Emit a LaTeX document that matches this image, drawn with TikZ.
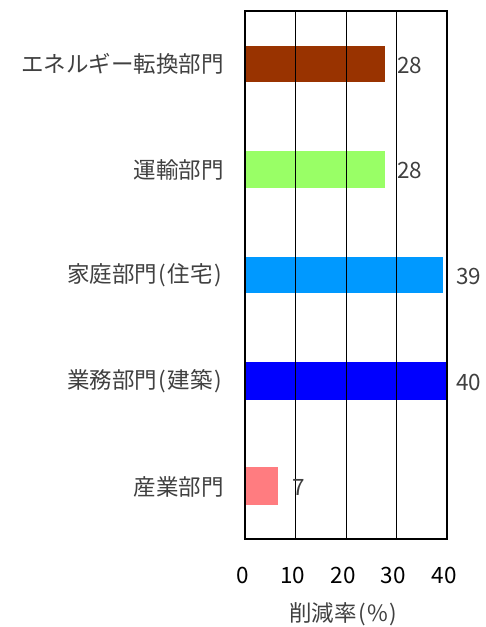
\documentclass[tikz,border=0pt]{standalone}
\usepackage{fontspec}
\setmainfont{Noto Sans CJK JP}
\definecolor{txt}{HTML}{404040}
\definecolor{cEn}{HTML}{993300}
\definecolor{cTr}{HTML}{99FF66}
\definecolor{cHo}{HTML}{0099FF}
\definecolor{cBu}{HTML}{0000FF}
\definecolor{cIn}{HTML}{FF7C80}
\newcommand{\lp}{\kern1.5pt(\kern1.5pt}
\newcommand{\rp}{\kern1.5pt)\kern2pt}
\begin{document}
\begin{tikzpicture}[x=1pt,y=-1pt,
  cat/.style={anchor=east,text=txt,font=\fontsize{22.5}{24}\selectfont,inner sep=0pt},
  val/.style={anchor=west,text=txt,font=\fontsize{22.5}{24}\selectfont,inner sep=0pt},
  ticklab/.style={anchor=center,text=black,font=\fontsize{22.5}{24}\selectfont,inner sep=0pt},
  gridline/.style={line width=1pt,black},
  plotframe/.style={line width=2pt,black}]
\useasboundingbox (0,0) rectangle (485,627);
% bars
\fill[cEn] (245,46) rectangle (385,82);
\fill[cTr] (245,151) rectangle (385,187.5);
\fill[cHo] (245,256.5) rectangle (443.3,292.5);
\fill[cBu] (245,362.3) rectangle (446.7,400);
\fill[cIn] (245,467.3) rectangle (278.3,505.3);
% grid
\foreach \x in {295.6,346.1,396.7} \draw[gridline] (\x,11) -- (\x,538.5);
\draw[plotframe] (245,11) rectangle (446.7,538.5);
% category labels
\node[cat] (l1) at (224,64) {エネルギー転換部門};
\node[cat] (l2) at (224,169.5) {運輸部門};
\node[cat] (l3) at (224,275) {家庭部門\lp 住宅\rp};
\node[cat] (l4) at (224,381) {業務部門\lp 建築\rp};
\node[cat] (l5) at (224,486.5) {産業部門};
% values
\node[val] (v1) at (397,65) {28};
\node[val] (v2) at (397,170.5) {28};
\node[val] (v3) at (456,276) {39};
\node[val] (v4) at (456,382) {40};
\node[val] (v5) at (292,487.5) {7};
% ticks
\node[ticklab] (t0) at (242.7,575) {0};
\node[ticklab] (t1) at (292.5,575) {10};
\node[ticklab] (t2) at (343,575) {20};
\node[ticklab] (t3) at (393,575) {30};
\node[ticklab] (t4) at (444,575) {40};
\node[ticklab,text=txt] (ax) at (344,614) {削減率\lp\%\rp};
\end{tikzpicture}
\end{document}
